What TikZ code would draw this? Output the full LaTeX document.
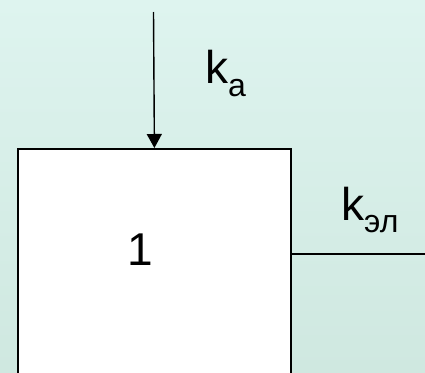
\documentclass[tikz,border=0pt]{standalone}
\usepackage{fontspec}
\setmainfont{Liberation Sans}
\usetikzlibrary{arrows.meta}
\definecolor{bgtop}{RGB}{222,244,239}
\definecolor{bgbot}{RGB}{207,232,224}
\begin{document}
\begin{tikzpicture}[x=1pt,y=-1pt,
  lbl/.style={inner sep=0pt, anchor=base west, font=\fontsize{46}{50}\selectfont},
  sub/.style={},
  boxstyle/.style={draw, fill=white, line width=1.8pt, inner sep=0pt, minimum width=273pt, minimum height=240pt, anchor=north west},
  conn/.style={line width=1.4pt}]
\useasboundingbox (0,0) rectangle (425,372);
\clip (0,0) rectangle (425,372);
\shade[top color=bgtop, bottom color=bgbot] (0,0) rectangle (425,372);
\node[boxstyle] (box) at (17,148) {};
\node[lbl, anchor=base] (one) at (140,265) {1};
\coordinate (src) at (153.5,12);
\draw[conn, -{Triangle[length=14pt,width=15pt]}] (src) -- (box.north);
\coordinate (rend) at (426,254);
\draw[conn] (box.east |- rend) -- (rend);
\node[lbl] (ka) at (205,83) {k\raisebox{-13pt}{\fontsize{32}{34}\selectfont a}};
\node[lbl] (kel) at (341,220) {k\raisebox{-12pt}{\fontsize{32}{34}\selectfont эл}};
\end{tikzpicture}
\end{document}
